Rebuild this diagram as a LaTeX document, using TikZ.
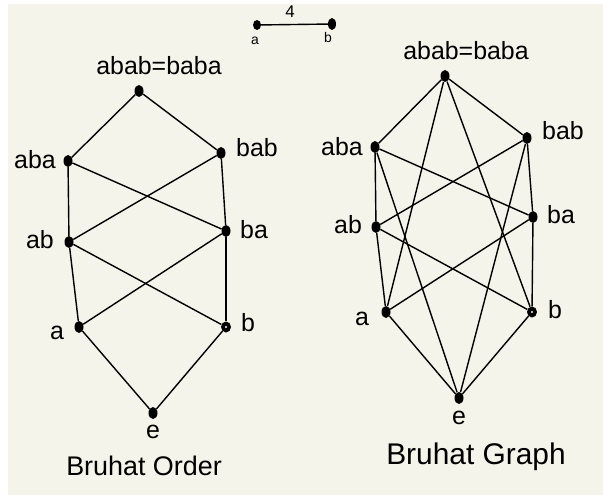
\documentclass[tikz,border=0pt]{standalone}
\usepackage{fontspec}
\setmainfont{Liberation Sans}
\usetikzlibrary{shapes.geometric}
\definecolor{paper}{HTML}{F4F4EA}
\begin{document}
\begin{tikzpicture}[x=1bp,y=-1bp,
  dot/.style={ellipse,fill=black,inner sep=0pt,minimum width=9bp,minimum height=12bp},
  bdot/.style={dot,minimum width=10bp,minimum height=11bp,path picture={\fill[white] (path picture bounding box.center) circle (1.2bp);}},
  lbl/.style={font=\fontsize{25}{25}\selectfont,inner sep=0pt},
  ttl/.style={font=\fontsize{27}{27}\selectfont,inner sep=0pt},
  edge/.style={line width=1.4bp,black}]
\useasboundingbox (0,0) rectangle (603,495);
\fill[paper] (8,4) rectangle (603,495);

% Coxeter diagram
\node[dot,minimum width=8bp,minimum height=10bp] (ca) at (257,25) {};
\node[dot,minimum width=8bp,minimum height=12bp] (cb) at (332,24) {};
\draw[edge] (ca) -- (cb);
\node[font=\fontsize{17}{17}\selectfont,inner sep=0pt] (four) at (290,12) {4};
\node[font=\fontsize{14}{14}\selectfont,inner sep=0pt] (cal) at (255,41) {a};
\node[font=\fontsize{14}{14}\selectfont,inner sep=0pt] (cbl) at (328,38) {b};

% Bruhat order
\node[dot] (Ltop) at (139,91) {};
\node[dot] (Laba) at (68,161) {};
\node[dot] (Lbab) at (221,153) {};
\node[dot] (Lab) at (69,242) {};
\node[dot] (Lba) at (226,231) {};
\node[dot] (La) at (79,327) {};
\node[bdot] (Lb) at (226,327) {};
\node[dot] (Le) at (153,413) {};
\foreach \u/\v in {Ltop/Laba,Ltop/Lbab,Laba/Lab,Laba/Lba,Lbab/Lab,Lbab/Lba,
                   Lab/La,Lab/Lb,Lba/La,Lba/Lb,La/Le,Lb/Le}
  \draw[edge] (\u) -- (\v);
\node[lbl] (Ltopl) at (159,66) {abab=baba};
\node[lbl] (Labal) at (35,160) {aba};
\node[lbl] (Lbabl) at (257,148) {bab};
\node[lbl] (Labl) at (40,240) {ab};
\node[lbl] (Lbal) at (254,230) {ba};
\node[lbl] (Lal) at (57,333) {a};
\node[lbl] (Lbl) at (248,323) {b};
\node[lbl] (Lel) at (153,432) {e};
\node[ttl] (Ltitle) at (144,466) {Bruhat Order};

% Bruhat graph
\node[dot] (Rtop) at (445,76) {};
\node[dot] (Raba) at (375,147) {};
\node[dot] (Rbab) at (527,138) {};
\node[dot] (Rab) at (376,227) {};
\node[dot] (Rba) at (533,217) {};
\node[dot] (Ra) at (386,312) {};
\node[bdot] (Rb) at (532,312) {};
\node[dot] (Re) at (459,398) {};
\foreach \u/\v in {Rtop/Raba,Rtop/Rbab,Raba/Rab,Raba/Rba,Rbab/Rab,Rbab/Rba,
                   Rab/Ra,Rab/Rb,Rba/Ra,Rba/Rb,Ra/Re,Rb/Re,
                   Rtop/Ra,Rtop/Rb,Raba/Re,Rbab/Re}
  \draw[edge] (\u) -- (\v);
\node[lbl] (Rtopl) at (466,51) {abab=baba};
\node[lbl] (Rabal) at (342,147) {aba};
\node[lbl] (Rbabl) at (563,131) {bab};
\node[lbl] (Rabl) at (348,225) {ab};
\node[lbl] (Rbal) at (561,215) {ba};
\node[lbl] (Ral) at (362,319) {a};
\node[lbl] (Rbl) at (555,310) {b};
\node[lbl] (Rel) at (459,418) {e};
\node[ttl,font=\fontsize{30}{30}\selectfont] (Rtitle) at (476,457) {Bruhat Graph};
\end{tikzpicture}
\end{document}
